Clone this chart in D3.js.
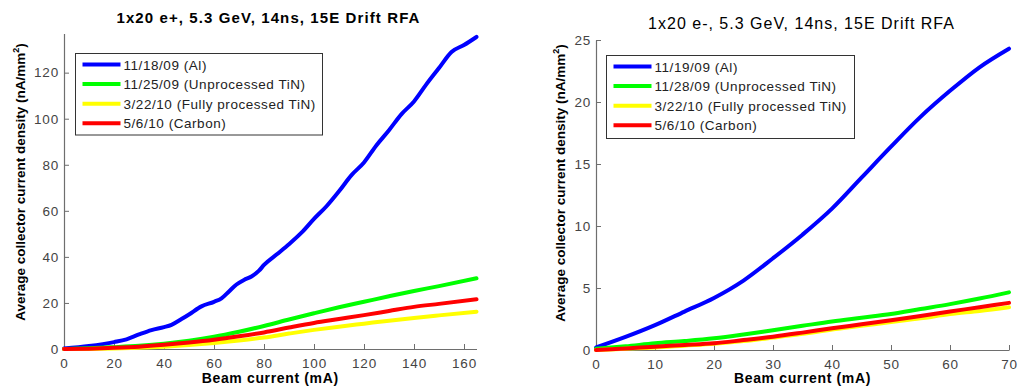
<!DOCTYPE html>
<html><head><meta charset="utf-8">
<script src="https://cdn.jsdelivr.net/npm/d3@7"></script>
<style>
html,body{margin:0;padding:0;background:#fff;}
svg text{font-family:"Liberation Sans",Arial,sans-serif;}
</style></head>
<body><svg id="c" width="1019" height="392"></svg>
<script>
// ---------- data ----------
const leftTitle = "1x20 e+, 5.3 GeV, 14ns, 15E Drift RFA";
const rightTitle = "1x20 e-, 5.3 GeV, 14ns, 15E Drift RFA";
const xLabel = "Beam current (mA)";
const yLabel = "Average collector current density (nA/mm";
const leftNames = ["11/18/09 (Al)", "11/25/09 (Unprocessed TiN)", "3/22/10 (Fully processed TiN)", "5/6/10 (Carbon)"];
const rightNames = ["11/19/09 (Al)", "11/28/09 (Unprocessed TiN)", "3/22/10 (Fully processed TiN)", "5/6/10 (Carbon)"];
const seriesColors = ["#0000ff", "#00ff00", "#ffff00", "#ff0000"];

const leftXTicks = [0, 20, 40, 60, 80, 100, 120, 140, 160];
const leftYTicks = [0, 20, 40, 60, 80, 100, 120];
const rightXTicks = [0, 10, 20, 30, 40, 50, 60, 70];
const rightYTicks = [0, 5, 10, 15, 20, 25];

// e+ : Al
const leftAlX = [0, 10, 20, 25, 30, 35, 40, 43, 47, 50, 55, 60, 63, 66, 69, 72, 75, 78, 80, 85, 90, 95, 100, 105, 110, 115, 120, 125, 130, 135, 140, 145, 150, 155, 160, 165];
const leftAlY = [0.2, 1.3, 3.0, 4.2, 6.3, 8.2, 9.5, 10.5, 13, 15, 18.5, 20.5, 22, 25, 28, 30, 31.5, 34, 36.5, 41, 45.5, 50.5, 56.5, 62, 68.5, 75.5, 81, 88.5, 95, 102, 107.5, 115, 122, 129, 132, 135.5];
// e+ : TiN unprocessed, TiN processed, Carbon
const leftOtherX = [0, 10, 20, 30, 40, 50, 60, 70, 80, 90, 100, 110, 120, 130, 140, 150, 165];
const leftTiNY = [0, 0.3, 0.8, 1.4, 2.3, 3.6, 5.3, 7.5, 10, 12.8, 15.5, 18.1, 20.5, 22.9, 25.2, 27.3, 30.7];
const leftTiN2Y = [0, 0.05, 0.2, 0.5, 1.0, 1.7, 2.6, 3.7, 5.0, 6.7, 8.3, 9.7, 11, 12.3, 13.5, 14.6, 16.2];
const leftCarbonY = [0, 0.15, 0.5, 1.0, 1.8, 2.8, 4.0, 5.5, 7.2, 9.3, 11.3, 13.0, 14.7, 16.5, 18.3, 19.6, 21.6];

// e- : all series
const rightX = [0, 5, 10, 15, 20, 25, 30, 35, 40, 45, 50, 55, 60, 65, 70];
const rightAlY = [0.2, 1.05, 2.0, 3.1, 4.2, 5.6, 7.4, 9.3, 11.4, 13.9, 16.4, 18.8, 20.9, 22.8, 24.3];
const rightTiNY = [0.1, 0.3, 0.54, 0.72, 0.94, 1.25, 1.6, 1.95, 2.3, 2.6, 2.9, 3.3, 3.7, 4.15, 4.65];
const rightTiN2Y = [0, 0.1, 0.2, 0.35, 0.5, 0.72, 1.0, 1.3, 1.65, 1.95, 2.25, 2.55, 2.9, 3.15, 3.45];
const rightCarbonY = [0, 0.13, 0.27, 0.4, 0.54, 0.8, 1.07, 1.4, 1.75, 2.07, 2.4, 2.75, 3.1, 3.45, 3.8];

// ---------- drawing ----------
const svg = d3.select("#c");
const axisColor = "#6e6e6e";
const tickTextColor = "#444";

function panel(cfg) {
  const x = d3.scaleLinear().domain(cfg.xDomain).range([cfg.x0, cfg.x1]);
  const y = d3.scaleLinear().domain(cfg.yDomain).range([cfg.y0, cfg.y1]);
  const g = svg.append("g");

  const xa = g.append("g").attr("transform", `translate(0,${cfg.y0})`)
    .call(d3.axisBottom(x).tickValues(cfg.xTicks).tickSize(-5).tickPadding(9).tickSizeOuter(0));
  const ya = g.append("g").attr("transform", `translate(${cfg.x0},0)`)
    .call(d3.axisLeft(y).tickValues(cfg.yTicks).tickSize(-5).tickPadding(5).tickSizeOuter(0));
  [xa, ya].forEach(a => {
    a.select(".domain").attr("stroke", axisColor).attr("stroke-width", 1.2);
    a.selectAll(".tick line").attr("stroke", axisColor);
    a.selectAll(".tick text").attr("fill", tickTextColor).attr("font-size", 13.5)
      .attr("letter-spacing", 0.8)
      .style("font-family", "'Liberation Sans',Arial,sans-serif");
  });

  const clipId = "clip" + cfg.id;
  g.append("clipPath").attr("id", clipId).append("rect")
    .attr("x", cfg.x0 - 3).attr("y", cfg.y1 - 3)
    .attr("width", cfg.x1 - cfg.x0 + 6).attr("height", cfg.y0 - cfg.y1 + 6);
  const line = d3.line().x(d => x(d[0])).y(d => y(d[1])).curve(d3.curveMonotoneX);
  const lg = g.append("g").attr("clip-path", `url(#${clipId})`);
  cfg.series.forEach((s, i) => {
    lg.append("path").datum(s.xs.map((v, k) => [v, s.ys[k]]))
      .attr("fill", "none").attr("stroke", seriesColors[i])
      .attr("stroke-width", 4).attr("stroke-linejoin", "round").attr("stroke-linecap", "round")
      .attr("d", line);
  });

  g.append("text").attr("x", cfg.titleX).attr("y", cfg.titleY).attr("text-anchor", "middle")
    .attr("font-size", cfg.titleSize).attr("font-weight", cfg.titleWeight).attr("fill", "#000")
    .attr("letter-spacing", cfg.titleSpacing)
    .text(cfg.title);

  g.append("text").attr("x", (cfg.x0 + cfg.x1) / 2).attr("y", 383).attr("text-anchor", "middle")
    .attr("font-size", 14).attr("font-weight", "bold").attr("fill", "#000")
    .attr("letter-spacing", 0.65).text(xLabel);

  const yl = g.append("text").attr("transform", `translate(${cfg.yLabelX},${cfg.yLabelY}) rotate(-90)`)
    .attr("text-anchor", "middle").attr("font-size", 13.5).attr("font-weight", "bold").attr("fill", "#000");
  yl.append("tspan").text(yLabel);
  yl.append("tspan").attr("dy", -6).attr("font-size", 9).text("2");
  yl.append("tspan").attr("dy", 6).text(")");

  const L = cfg.legend;
  g.append("rect").attr("x", L.x).attr("y", L.y).attr("width", L.w).attr("height", L.h)
    .attr("fill", "#fff").attr("stroke", "#333").attr("stroke-width", 1);
  cfg.names.forEach((n, i) => {
    const cy = L.y + 11 + i * 19.6;
    g.append("line").attr("x1", L.x + 7).attr("x2", L.x + 45).attr("y1", cy).attr("y2", cy)
      .attr("stroke", seriesColors[i]).attr("stroke-width", 4);
    g.append("text").attr("x", L.x + 48).attr("y", cy + 5).attr("font-size", 13.5)
      .attr("letter-spacing", 0.55)
      .attr("fill", "#222").text(n);
  });
}

panel({
  id: "L", xDomain: [0, 165], yDomain: [0, 137],
  x0: 64, x1: 476.5, y0: 349, y1: 33.5,
  xTicks: leftXTicks, yTicks: leftYTicks,
  series: [
    {xs: leftAlX, ys: leftAlY},
    {xs: leftOtherX, ys: leftTiNY},
    {xs: leftOtherX, ys: leftTiN2Y},
    {xs: leftOtherX, ys: leftCarbonY}
  ],
  title: leftTitle, titleX: 268.5, titleY: 23, titleSize: 15, titleWeight: "bold", titleSpacing: 1.1,
  yLabelX: 25, yLabelY: 182,
  names: leftNames,
  legend: {x: 75.5, y: 53.5, w: 247, h: 81.5}
});

panel({
  id: "R", xDomain: [0, 70], yDomain: [0, 25],
  x0: 596, x1: 1009, y0: 350, y1: 40,
  xTicks: rightXTicks, yTicks: rightYTicks,
  series: [
    {xs: rightX, ys: rightAlY},
    {xs: rightX, ys: rightTiNY},
    {xs: rightX, ys: rightTiN2Y},
    {xs: rightX, ys: rightCarbonY}
  ],
  title: rightTitle, titleX: 801.5, titleY: 28.5, titleSize: 16, titleWeight: "normal", titleSpacing: 1.0,
  yLabelX: 565, yLabelY: 183,
  names: rightNames,
  legend: {x: 606.5, y: 55.5, w: 248, h: 83}
});
</script>
</body></html>
